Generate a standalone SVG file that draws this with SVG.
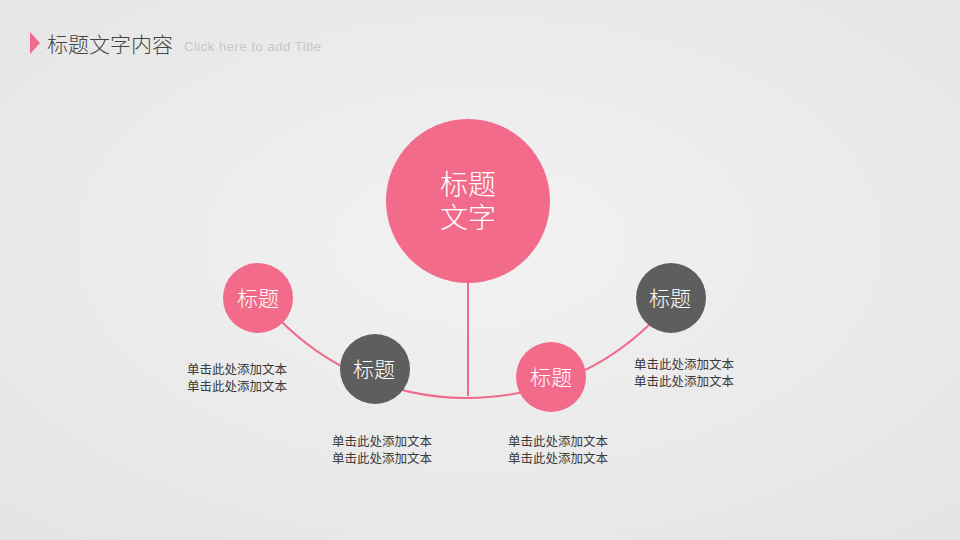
<svg xmlns="http://www.w3.org/2000/svg" width="960" height="540" viewBox="0 0 960 540">
<defs>
<radialGradient id="bg" cx="0.5" cy="0.45" r="0.75">
<stop offset="0" stop-color="#f2f2f2"/>
<stop offset="1" stop-color="#e4e4e4"/>
</radialGradient>
<style>
.cjk{font-family:"Noto Sans CJK SC","Liberation Sans",sans-serif;}
.pink{fill:#f26b8b;}
.dark{fill:#5e5e5e;}
.lbl{fill:#ffffff;font-size:21px;text-anchor:middle;font-weight:300;}
.big{font-size:28px;}
.desc{fill:#3a3a3a;font-size:12.5px;text-anchor:middle;}
.conn{stroke:#ee6b8b;stroke-width:2;fill:none;}
</style>
</defs>
<rect width="960" height="540" fill="url(#bg)"/>
<g id="title">
<polygon points="30,32 40,43 30,54" fill="#f26b8b"/>
<text x="47" y="52" class="cjk" font-size="21" font-weight="300" fill="#444444">标题文字内容</text>
<text x="184" y="51" font-family="Liberation Sans, sans-serif" font-size="13" fill="#c6c6c6" textLength="137" lengthAdjust="spacing">Click here to add Title</text>
</g>
<g id="connectors">
<line class="conn" x1="468" y1="280" x2="468" y2="396"/>
<path class="conn" d="M 278 318 A 263 263 0 0 0 652 322"/>
</g>
<g id="center">
<circle cx="468" cy="201" r="82" class="pink"/>
<text x="468" y="195" class="cjk lbl big">标题</text>
<text x="468" y="228" class="cjk lbl big">文字</text>
</g>
<g id="node1">
<circle cx="258" cy="298" r="35" class="pink"/>
<text x="258" y="306" class="cjk lbl">标题</text>
<text x="237" y="374" class="cjk desc">单击此处添加文本</text>
<text x="237" y="391" class="cjk desc">单击此处添加文本</text>
</g>
<g id="node2">
<circle cx="375" cy="369" r="35" class="dark"/>
<text x="374" y="377" class="cjk lbl">标题</text>
<text x="382" y="446" class="cjk desc">单击此处添加文本</text>
<text x="382" y="463" class="cjk desc">单击此处添加文本</text>
</g>
<g id="node3">
<circle cx="551" cy="377" r="35" class="pink"/>
<text x="551" y="385" class="cjk lbl">标题</text>
<text x="558" y="446" class="cjk desc">单击此处添加文本</text>
<text x="558" y="463" class="cjk desc">单击此处添加文本</text>
</g>
<g id="node4">
<circle cx="671" cy="298" r="35" class="dark"/>
<text x="670" y="306" class="cjk lbl">标题</text>
<text x="684" y="369" class="cjk desc">单击此处添加文本</text>
<text x="684" y="386" class="cjk desc">单击此处添加文本</text>
</g>
</svg>
